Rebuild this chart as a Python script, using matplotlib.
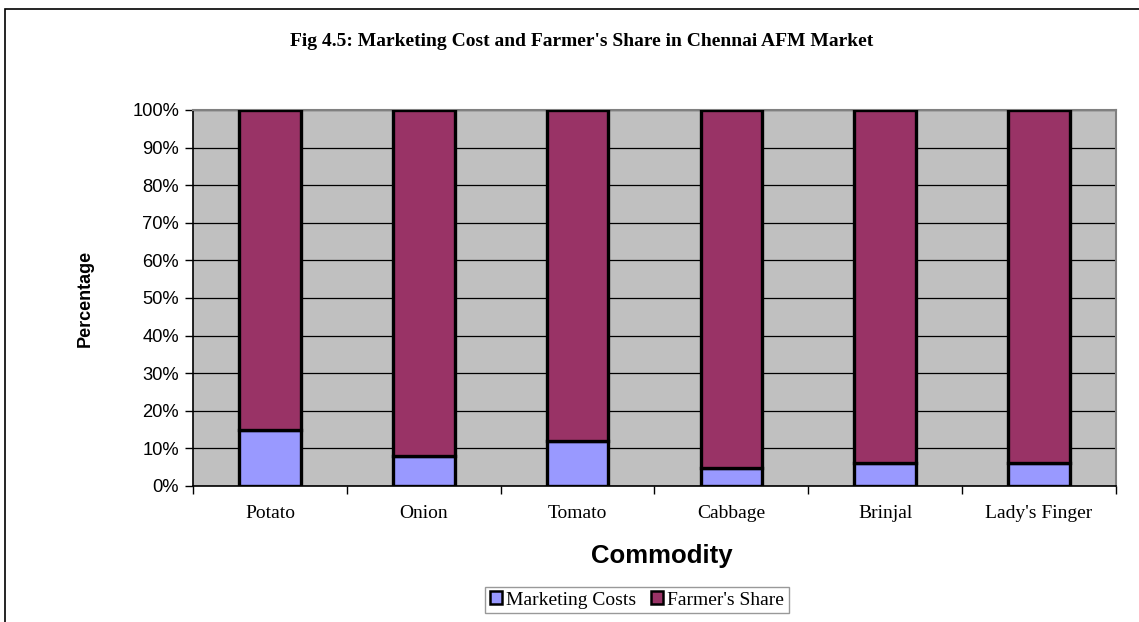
import matplotlib.pyplot as plt
from matplotlib.patches import Rectangle
import numpy as np

categories = ["Potato", "Onion", "Tomato", "Cabbage", "Brinjal", "Lady's Finger"]
marketing_costs = [15.0, 8.0, 12.0, 4.7, 6.2, 6.2]
farmers_share = [100 - v for v in marketing_costs]
yticks = [0, 10, 20, 30, 40, 50, 60, 70, 80, 90, 100]
ytick_labels = [f"{v}%" for v in yticks]

fig = plt.figure(figsize=(11.39, 6.22), dpi=100)
fig.patch.set_facecolor("white")
# outer chart border (left & top visible)
fig.add_artist(Rectangle((5 / 1139, -0.05), 1.2, 1 - 9 / 622 + 0.05,
                         transform=fig.transFigure, fill=False,
                         edgecolor="black", linewidth=1.2))

ax = fig.add_axes([193 / 1139, 1 - 486 / 622, (1116 - 193) / 1139, (486 - 110) / 622])
ax.set_facecolor("#C0C0C0")
x = np.arange(len(categories))
w = 0.40
ax.bar(x, marketing_costs, w, color="#9999FF", edgecolor="black", linewidth=2.4,
       label="Marketing Costs", zorder=3)
ax.bar(x, farmers_share, w, bottom=marketing_costs, color="#993366", edgecolor="black",
       linewidth=2.4, label="Farmer's Share", zorder=3)

ax.set_xlim(-0.5, len(categories) - 0.5)
ax.set_ylim(0, 100)
ax.set_yticks(yticks)
ax.set_yticklabels(ytick_labels, fontfamily="Liberation Sans", fontsize=13.2)
ax.yaxis.grid(True, color="black", linewidth=0.9, zorder=1)
ax.set_axisbelow(True)

ax.set_xticks(x)
ax.set_xticklabels(categories, fontfamily="Liberation Serif", fontsize=14)
ax.tick_params(axis="x", length=0, pad=14)
ax.set_xticks(np.arange(len(categories) + 1) - 0.5, minor=True)
ax.tick_params(axis="x", which="minor", length=6, width=1, direction="out")
ax.tick_params(axis="y", length=6, width=1, direction="out", pad=4)

for s in ["top", "right"]:
    ax.spines[s].set_color("#808080")
    ax.spines[s].set_linewidth(1.5)
for s in ["left", "bottom"]:
    ax.spines[s].set_color("black")
    ax.spines[s].set_linewidth(1.2)

ax.set_ylabel("Percentage", fontfamily="Liberation Sans", fontweight="bold",
              fontsize=13, labelpad=28)
ax.set_xlabel("Commodity", fontfamily="Liberation Sans", fontweight="bold",
              fontsize=18.5, labelpad=13)
ax.xaxis.set_label_coords(0.508, -0.155)

fig.text(582 / 1139, 1 - 41 / 622, "Fig 4.5: Marketing Cost and Farmer's Share in Chennai AFM Market",
         ha="center", va="center", fontfamily="Liberation Serif", fontweight="bold", fontsize=14)

leg = fig.legend(loc="center", bbox_to_anchor=(637 / 1139, 1 - 600 / 622), ncol=2,
                 prop={"family": "Liberation Serif", "size": 14},
                 frameon=True, fancybox=False, edgecolor="#808080",
                 handlelength=0.6, handleheight=0.6, handletextpad=0.2,
                 columnspacing=0.8, borderpad=0.25)
leg.get_frame().set_linewidth(1.0)
for h in leg.legend_handles:
    h.set_linewidth(1.8)

fig.savefig("out.png", dpi=100, facecolor="white")
